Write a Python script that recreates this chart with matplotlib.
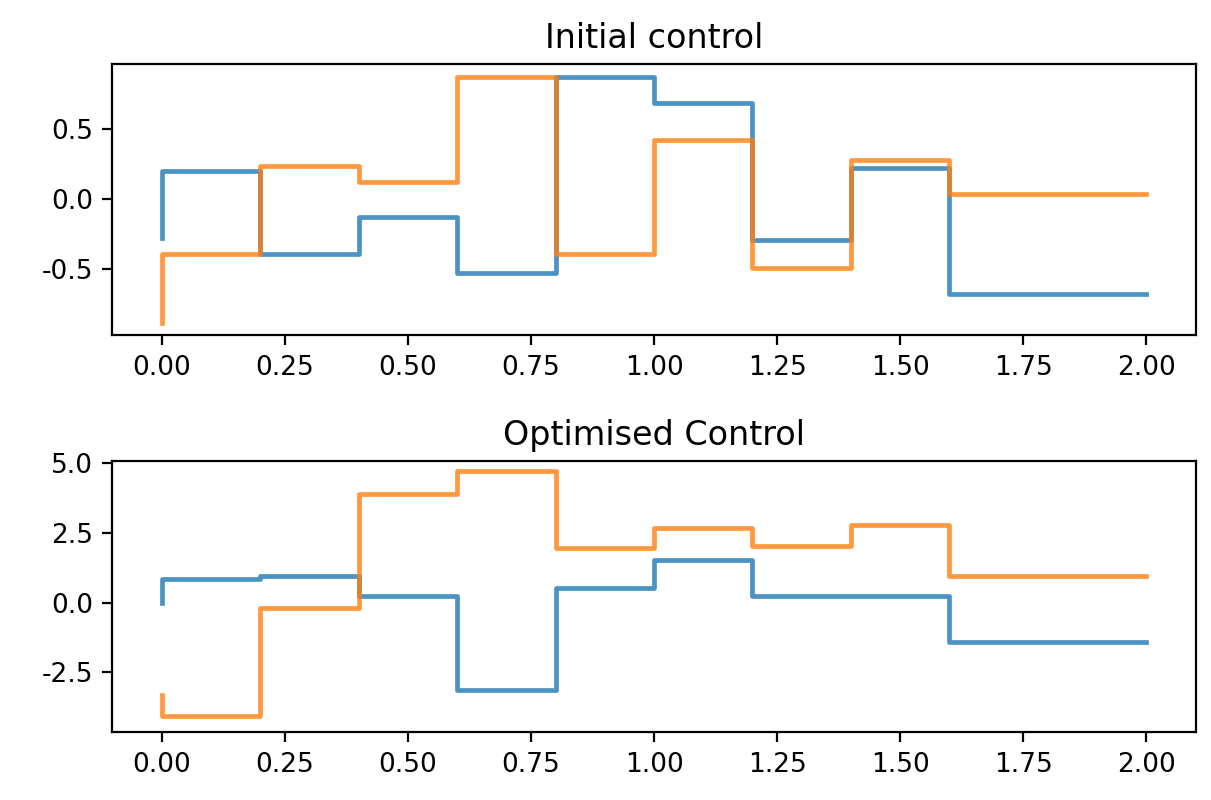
import matplotlib.pyplot as plt
import numpy as np

plt.rcParams['axes.unicode_minus'] = False

# switching times; first value of each control is the value at t=0 only
t = [0.0, 0.2, 0.4, 0.6, 0.8, 1.0, 1.2, 1.4, 1.6, 2.0]

# initial control (two inputs)
u0_init = [-0.28, 0.20, -0.39, -0.13, -0.53, 0.876, 0.69, -0.29, 0.22, -0.68]
u1_init = [-0.886, -0.39, 0.238, 0.12, 0.876, -0.39, 0.424, -0.493, 0.28, 0.035]

# optimised control
u0_opt = [0.0, 0.84, 0.95, 0.24, -3.12, 0.54, 1.55, 0.24, 0.24, -1.40]
u1_opt = [-3.30, -4.05, -0.20, 3.91, 4.72, 1.97, 2.69, 2.05, 2.78, 0.95]

fig, (ax1, ax2) = plt.subplots(2, 1, figsize=(6.055, 4.0), dpi=200)
fig.subplots_adjust(left=0.0927, right=0.9874, top=0.9196, bottom=0.0846, hspace=0.466)

ax1.step(t, u0_init, where='pre', lw=1.7, color='C0', alpha=0.8)
ax1.step(t, u1_init, where='pre', lw=1.7, color='C1', alpha=0.8)
ax1.set_title('Initial control', fontsize=12)

ax2.step(t, u0_opt, where='pre', lw=1.7, color='C0', alpha=0.8)
ax2.step(t, u1_opt, where='pre', lw=1.7, color='C1', alpha=0.8)
ax2.set_title('Optimised Control', fontsize=12)

for ax in (ax1, ax2):
    ax.set_xticks(np.arange(0, 2.01, 0.25))
    ax.tick_params(labelsize=9.5)

ax1.set_yticks([-0.5, 0.0, 0.5])
ax2.set_yticks([-2.5, 0.0, 2.5, 5.0])
ax2.set_ylim(-4.65, 5.07)

plt.savefig('out.png', dpi=200)
